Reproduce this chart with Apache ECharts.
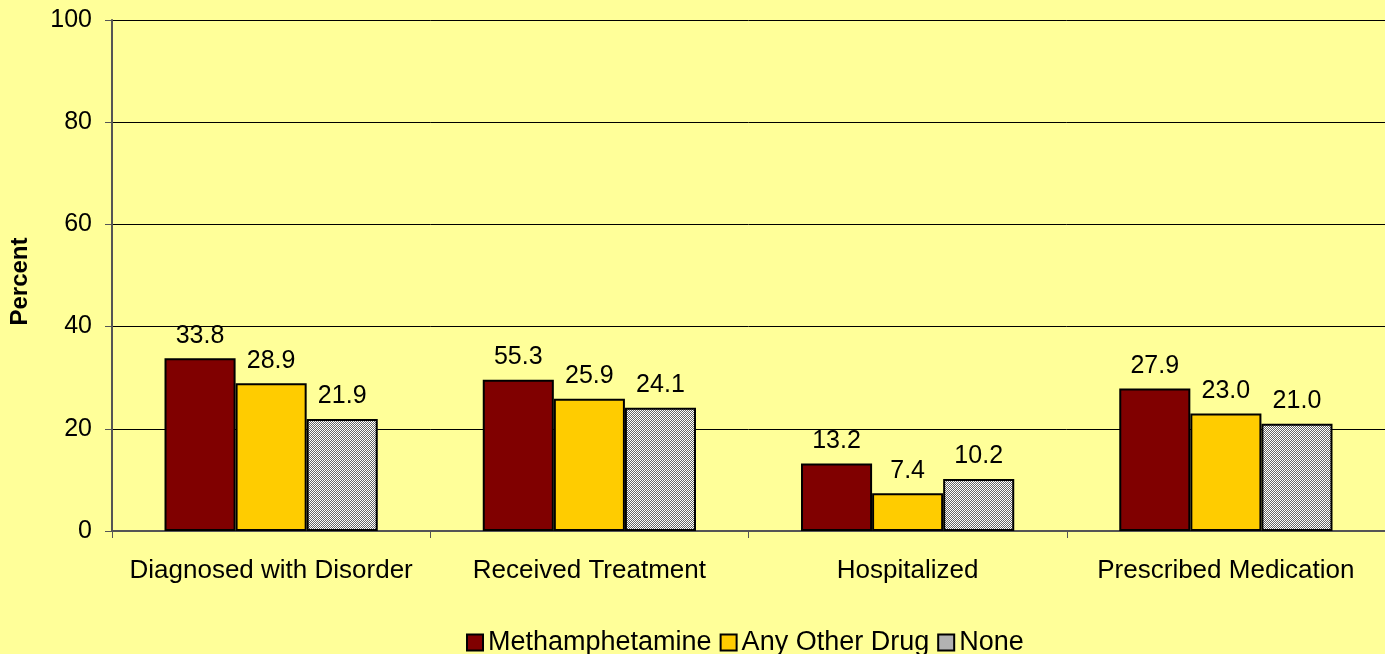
<!DOCTYPE html>
<html>
<head>
<meta charset="utf-8">
<script src="https://cdn.jsdelivr.net/npm/echarts@6/dist/echarts.min.js"></script>
<style>
  html, body { margin: 0; padding: 0; background: #ffff99; }
  #chart { width: 1385px; height: 654px; }
</style>
</head>
<body>
<div id="chart"></div>
<script>
var categories = ['Diagnosed with Disorder', 'Received Treatment', 'Hospitalized', 'Prescribed Medication'];
var seriesNames = ['Methamphetamine', 'Any Other Drug', 'None'];
// bar heights as drawn
var methValues = [33.8, 29.6, 13.2, 27.9];
var otherValues = [28.9, 25.9, 7.4, 23.0];
var noneValues = [21.9, 24.1, 10.2, 21.0];
// printed labels (the treatment label differs from its bar)
var methLabels = ['33.8', '55.3', '13.2', '27.9'];
var otherLabels = ['28.9', '25.9', '7.4', '23.0'];
var noneLabels = ['21.9', '24.1', '10.2', '21.0'];
var yTicks = [0, 20, 40, 60, 80, 100];

// fine diagonal hatch for "None"
var hatch = document.createElement('canvas');
hatch.width = 4; hatch.height = 4;
var hc = hatch.getContext('2d');
hc.fillStyle = '#ffffff';
hc.fillRect(0, 0, 4, 4);
hc.fillStyle = '#666666';
for (var i = 0; i < 4; i++) {
	hc.fillRect(i, 3 - i, 1, 1);
	hc.fillRect((i + 2) % 4, 3 - i, 1, 1);
}

var font = 'Liberation Sans, Arial, sans-serif';

function makeSeries(name, values, labels, color) {
	return {
		name: name,
		type: 'bar',
		barGap: '0%',
		barCategoryGap: '33%',
		data: values,
		itemStyle: { color: color, borderColor: '#000', borderWidth: 2 },
		label: {
			show: true,
			position: 'top',
			distance: 10,
			color: '#000',
			fontSize: 25,
			fontFamily: font,
			formatter: function(p) { return labels[p.dataIndex]; }
		}
	};
}

var chart = echarts.init(document.getElementById('chart'));
var option = {
	backgroundColor: '#ffff99',
	animation: false,
	grid: { left: 112, right: 0, top: 20, bottom: 123 },
	legend: {
		top: 629,
		left: 466,
		padding: 0,
		icon: 'rect',
		itemWidth: 16,
		itemHeight: 16,
		itemGap: 8,
		textStyle: { fontSize: 27, fontFamily: font, color: '#000' },
		data: seriesNames
	},
	xAxis: {
		type: 'category',
		data: categories,
		axisLine: { lineStyle: { color: '#555', width: 2 } },
		axisTick: { show: true, interval: 0, length: 7, lineStyle: { color: '#555' } },
		axisLabel: { interval: 0, fontSize: 26, fontFamily: font, color: '#000', margin: 27 }
	},
	yAxis: {
		type: 'value',
		min: 0,
		max: 100,
		interval: 20,
		name: 'Percent',
		nameLocation: 'middle',
		nameGap: 80,
		nameTextStyle: { fontSize: 24, fontWeight: 'bold', fontFamily: font, color: '#000', padding: [0, 12, 0, 0] },
		axisLine: { show: true, lineStyle: { color: '#555', width: 2 } },
		axisTick: { show: true, length: 7, lineStyle: { color: '#555' } },
		axisLabel: {
			fontSize: 25, fontFamily: font, color: '#000', margin: 20,
			formatter: function(v) { return yTicks.indexOf(v) >= 0 ? String(v) : ''; }
		},
		splitLine: { lineStyle: { color: '#000', width: 1 } }
	},
	series: [
		makeSeries(seriesNames[0], methValues, methLabels, '#800000'),
		makeSeries(seriesNames[1], otherValues, otherLabels, '#ffcc00'),
		makeSeries(seriesNames[2], noneValues, noneLabels, { image: hatch, repeat: 'repeat' })
	]
};
chart.setOption(option);
window.addEventListener('resize', function() {
	chart.resize();
});
</script>
</body>
</html>
